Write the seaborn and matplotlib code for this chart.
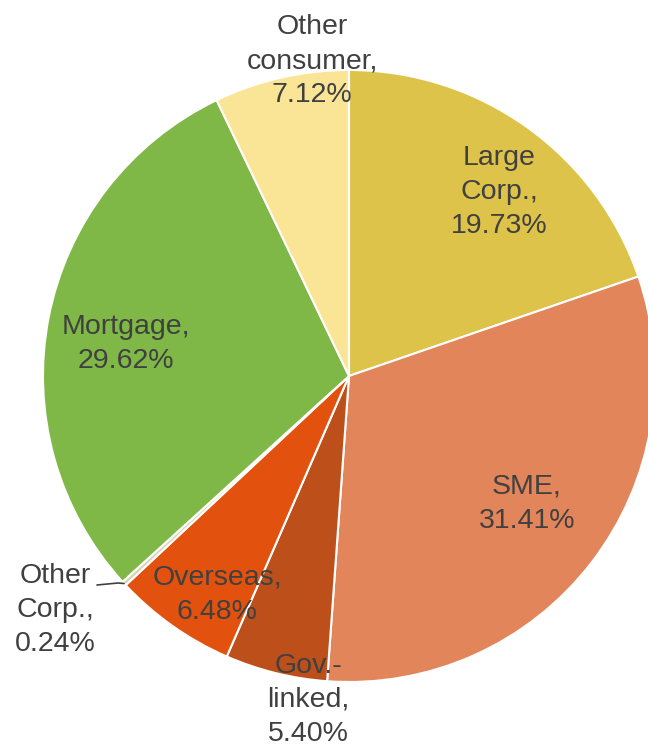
import numpy as np
import seaborn as sns
import matplotlib.pyplot as plt

# ---------------- Data ----------------
segments = ['Large\nCorp.', 'SME', 'Gov.-\nlinked', 'Overseas', 'Other\nCorp.', 'Mortgage', 'Other\nconsumer']
shares = [19.73, 31.41, 5.40, 6.48, 0.24, 29.62, 7.12]
colors = ['#DDC34A', '#E2855A', '#BD4F1A', '#E2520E', '#D8D3B0', '#7FB846', '#FAE496']

# label text centres (pixel coords, y measured from top)
label_pos = [(499, 192), (527, 504), (308, 700), (217, 595), (55, 610), (126, 344), (312, 61)]

# ---------------- Plot ----------------
sns.set_theme(style='white')
plt.rcParams['font.family'] = ['Liberation Sans', 'DejaVu Sans']

fig = plt.figure(figsize=(6.48, 7.5), dpi=100)
ax = fig.add_axes([0, 0, 1, 1])

cx, cy, r = 349, 750 - 376, 306
wedges, _ = ax.pie(shares, colors=colors, startangle=90, counterclock=False,
                   center=(cx, cy), radius=r, frame=True,
                   wedgeprops=dict(edgecolor='white', linewidth=1.5))
ax.set_xlim(0, 648)
ax.set_ylim(0, 750)
ax.axis('off')

for name, val, (x, y) in zip(segments, shares, label_pos):
    ax.text(x, 750 - y, f'{name},\n{val:.2f}%', ha='center', va='center',
            fontsize=20.5, color='#404040', linespacing=1.42)

# leader line for the tiny slice
w = wedges[4]
mid = np.deg2rad((w.theta1 + w.theta2) / 2)
ex, ey = cx + r * np.cos(mid), cy + r * np.sin(mid)
ax.plot([97, 118, ex], [750 - 585, 750 - 583, ey], color='#404040', lw=1.2)

fig.savefig('out.png', dpi=100)
